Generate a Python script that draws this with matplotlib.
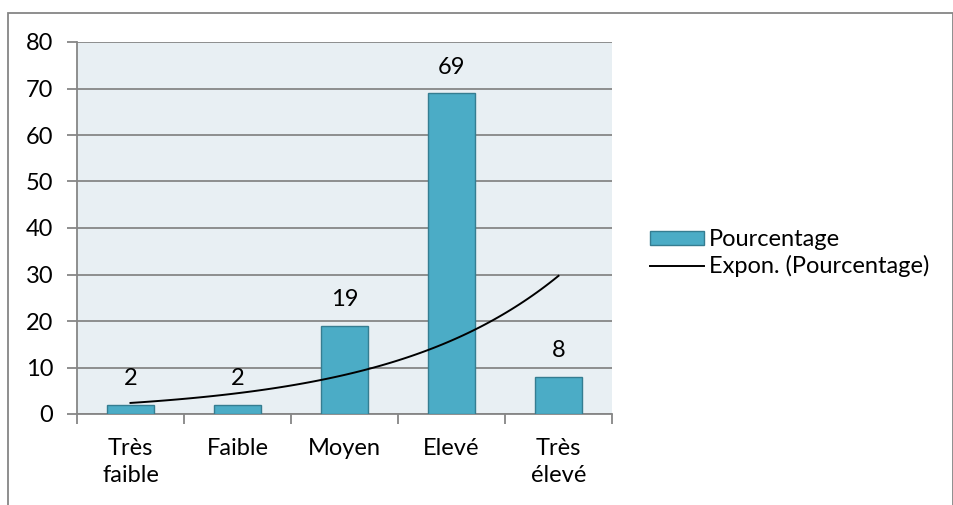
import numpy as np
import matplotlib.pyplot as plt
from matplotlib.patches import Rectangle

categories = ["Très\nfaible", "Faible", "Moyen", "Elevé", "Très\nélevé"]
values = [2, 2, 19, 69, 8]
yticks = [0, 10, 20, 30, 40, 50, 60, 70, 80]

plt.rcParams['font.family'] = ['Lato', 'DejaVu Sans']
fs = 17

W, H = 954, 505
fig = plt.figure(figsize=(W / 100, H / 100), dpi=100)

# plot area in pixel coords
left, right, top, bottom = 77, 612, 42, 414
ax = fig.add_axes([left / W, 1 - bottom / H, (right - left) / W, (bottom - top) / H])
ax.set_facecolor("#e8eff3")

x = np.arange(1, len(values) + 1)
bars = ax.bar(x, values, width=0.44, color="#4bacc6", edgecolor="#357d91",
              linewidth=1, label="Pourcentage", zorder=3)

for xi, v in zip(x, values):
    ax.text(xi, v + 3.3, str(v), ha="center", va="bottom", fontsize=fs, zorder=4)

# exponential trendline, fitted like Excel does
b, a = np.polyfit(x, np.log(values), 1)
xt = np.linspace(1, 5, 100)
trend, = ax.plot(xt, np.exp(a + b * xt), color="black", linewidth=1.4,
                 label="Expon. (Pourcentage)", zorder=4)

ax.set_xlim(0.5, 5.5)
ax.set_ylim(0, 80)
ax.set_yticks(yticks)
ax.yaxis.grid(True, color="#868686", linewidth=1.3, zorder=1)
ax.set_axisbelow(True)

for s in ["top", "right"]:
    ax.spines[s].set_visible(False)
ax.spines["left"].set_color("#868686")
ax.spines["bottom"].set_color("#868686")
ax.spines["left"].set_linewidth(1.3)
ax.spines["bottom"].set_linewidth(1.3)

ax.set_xticks(np.arange(0.5, 6, 1))
ax.set_xticklabels([])
ax.set_xticks(x, minor=True)
ax.set_xticklabels(categories, minor=True, fontsize=fs, linespacing=1.35)
ax.tick_params(axis="x", which="major", length=7, width=1.3, color="#868686")
ax.tick_params(axis="x", which="minor", length=0, pad=17)
ax.tick_params(axis="y", length=7, width=1.3, color="#868686", labelsize=fs, pad=10)

fig.legend([bars, trend], ["Pourcentage", "Expon. (Pourcentage)"],
           loc="upper left", bbox_to_anchor=(650 / W, 1 - 229 / H), frameon=False,
           fontsize=fs, handlelength=2.3, handleheight=0.55, handletextpad=0.2,
           labelspacing=0.22, borderaxespad=0, borderpad=0)

fig.patches.append(Rectangle((8 / W, -0.05), (953 - 8) / W, 1.05 - 13 / H,
                             transform=fig.transFigure, fill=False,
                             edgecolor="#868686", linewidth=1.3))

fig.savefig("out.png", dpi=100)
